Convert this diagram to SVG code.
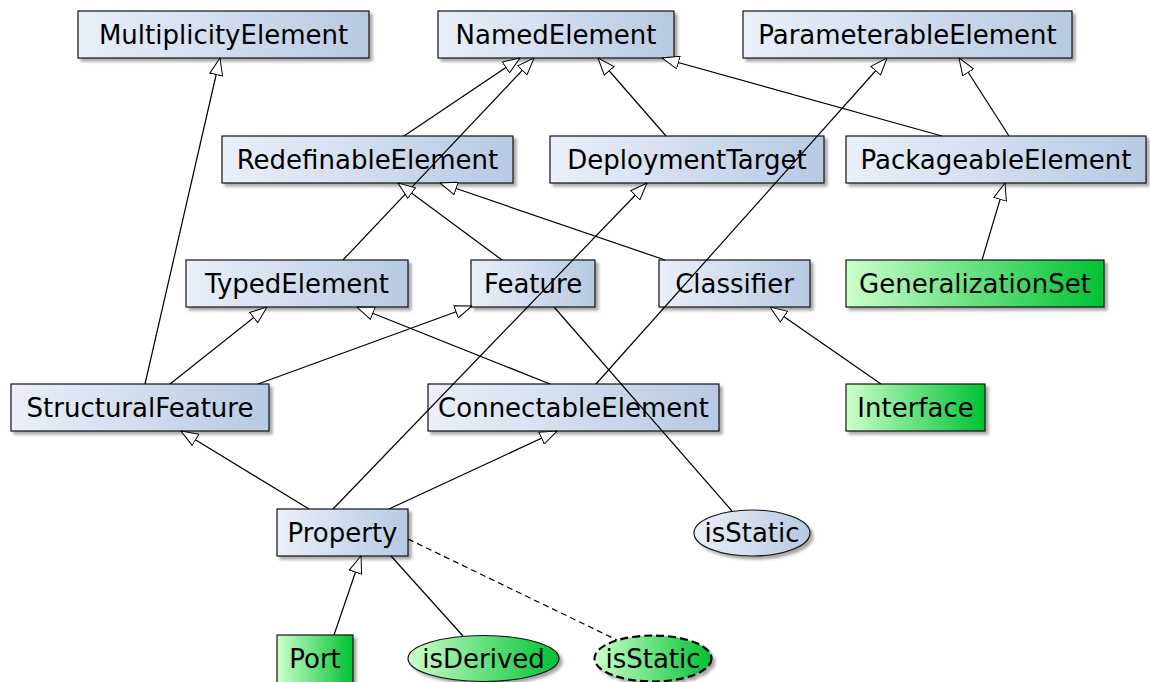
<svg xmlns="http://www.w3.org/2000/svg" width="1150" height="682" viewBox="0 0 1150 682">
  <defs>
    <linearGradient id="gBlue" x1="0" y1="0" x2="1" y2="0">
      <stop offset="0" stop-color="#ebf0f9"/>
      <stop offset="1" stop-color="#b7c9e3"/>
    </linearGradient>
    <linearGradient id="gGreen" x1="0" y1="0" x2="1" y2="0">
      <stop offset="0" stop-color="#ccffcc"/>
      <stop offset="1" stop-color="#00c232"/>
    </linearGradient>
    <filter id="shadow" x="-10%" y="-20%" width="125%" height="150%">
      <feGaussianBlur in="SourceAlpha" stdDeviation="1.5"/>
      <feOffset dx="3" dy="3" result="b"/>
      <feComponentTransfer><feFuncA type="linear" slope="0.35"/></feComponentTransfer>
      <feMerge><feMergeNode/><feMergeNode in="SourceGraphic"/></feMerge>
    </filter>
    <!-- hollow generalization arrowhead -->
    <marker id="gen" markerUnits="userSpaceOnUse" viewBox="0 0 18 14" refX="17.5" refY="7" markerWidth="18" markerHeight="14" orient="auto">
      <path d="M0.5,0.5 L17.5,7 L0.5,13.5 Z" fill="#fff" stroke="#000" stroke-width="1"/>
    </marker>
  </defs>
  <style>
    .box { stroke: #111; stroke-width: 1.2; filter: url(#shadow); }
    .blue { fill: url(#gBlue); }
    .green { fill: url(#gGreen); }
    .dashed { stroke: #000; stroke-width: 2.2; stroke-dasharray: 8 4; }
    text { font-family: "DejaVu Sans", "Liberation Sans", sans-serif; font-size: 26px; fill: #000; text-anchor: middle; }
    .edge { stroke: #000; stroke-width: 1.2; fill: none; }
    .gen { marker-end: url(#gen); }
    .dep { stroke-dasharray: 6 4; }
  </style>

  <g id="nodes">
    <g id="MultiplicityElement"><rect class="box blue" x="78" y="11" width="291" height="47"/><text x="223.5" y="43.5">MultiplicityElement</text></g>
    <g id="NamedElement"><rect class="box blue" x="438" y="11" width="236" height="47"/><text x="556" y="43.5">NamedElement</text></g>
    <g id="ParameterableElement"><rect class="box blue" x="743" y="11" width="329" height="47"/><text x="907.5" y="43.5">ParameterableElement</text></g>
    <g id="RedefinableElement"><rect class="box blue" x="222" y="136" width="291" height="47"/><text x="367.5" y="168.5">RedefinableElement</text></g>
    <g id="DeploymentTarget"><rect class="box blue" x="550" y="136" width="274" height="47"/><text x="687" y="168.5">DeploymentTarget</text></g>
    <g id="PackageableElement"><rect class="box blue" x="846" y="136" width="300" height="47"/><text x="996" y="168.5">PackageableElement</text></g>
    <g id="TypedElement"><rect class="box blue" x="186" y="260" width="222" height="47"/><text x="297" y="292.5">TypedElement</text></g>
    <g id="Feature"><rect class="box blue" x="471" y="260" width="124" height="47"/><text x="533" y="292.5">Feature</text></g>
    <g id="Classifier"><rect class="box blue" x="659" y="260" width="151" height="47"/><text x="734.5" y="292.5">Classifier</text></g>
    <g id="GeneralizationSet"><rect class="box green" x="846" y="260" width="258" height="47"/><text x="975" y="292.5">GeneralizationSet</text></g>
    <g id="StructuralFeature"><rect class="box blue" x="11" y="384" width="258" height="47"/><text x="140" y="416.5">StructuralFeature</text></g>
    <g id="ConnectableElement"><rect class="box blue" x="428" y="384" width="291" height="47"/><text x="573.5" y="416.5">ConnectableElement</text></g>
    <g id="Interface"><rect class="box green" x="846" y="384" width="139" height="47"/><text x="915.5" y="416.5">Interface</text></g>
    <g id="Property"><rect class="box blue" x="277" y="509" width="131" height="47"/><text x="342.5" y="541.5">Property</text></g>
    <g id="isStatic"><ellipse class="box blue" cx="752" cy="533" rx="58" ry="23"/><text x="752" y="542">isStatic</text></g>
    <g id="Port"><rect class="box green" x="277" y="635" width="76" height="50"/><text x="315" y="668">Port</text></g>
    <g id="isDerived"><ellipse class="box green" cx="483.5" cy="658.5" rx="75.5" ry="23"/><text x="483.5" y="668">isDerived</text></g>
    <g id="isStaticProperty"><ellipse class="box green dashed" cx="653" cy="658.5" rx="58.5" ry="23"/><text x="653" y="668">isStatic</text></g>
  </g>

  <g id="connectors">
    <line class="edge gen" x1="145" y1="384" x2="220" y2="58"/>
    <line class="edge gen" x1="404" y1="136" x2="520" y2="58"/>
    <line class="edge gen" x1="343" y1="260" x2="534" y2="58"/>
    <line class="edge gen" x1="666" y1="136" x2="598" y2="58"/>
    <line class="edge gen" x1="942" y1="136" x2="662" y2="58"/>
    <line class="edge gen" x1="1009" y1="136" x2="959" y2="58"/>
    <line class="edge gen" x1="596" y1="384" x2="887" y2="58"/>
    <line class="edge gen" x1="502" y1="260" x2="398" y2="183"/>
    <line class="edge gen" x1="665" y1="260" x2="440" y2="183"/>
    <line class="edge gen" x1="982" y1="260" x2="1005" y2="183"/>
    <line class="edge gen" x1="170" y1="384" x2="267" y2="307"/>
    <line class="edge gen" x1="258" y1="384" x2="472" y2="306"/>
    <line class="edge gen" x1="550" y1="384" x2="357" y2="307"/>
    <line class="edge gen" x1="881" y1="384" x2="770" y2="307"/>
    <line class="edge gen" x1="309" y1="509" x2="181" y2="431"/>
    <line class="edge gen" x1="389" y1="509" x2="557" y2="431"/>
    <line class="edge gen" x1="333" y1="509" x2="647" y2="183"/>
    <line class="edge gen" x1="334" y1="635" x2="361" y2="556"/>
    <line class="edge" x1="554" y1="307" x2="732" y2="511"/>
    <line class="edge" x1="391" y1="556" x2="463" y2="636"/>
    <line class="edge dep" x1="408" y1="539" x2="617" y2="640"/>
  </g>
</svg>
